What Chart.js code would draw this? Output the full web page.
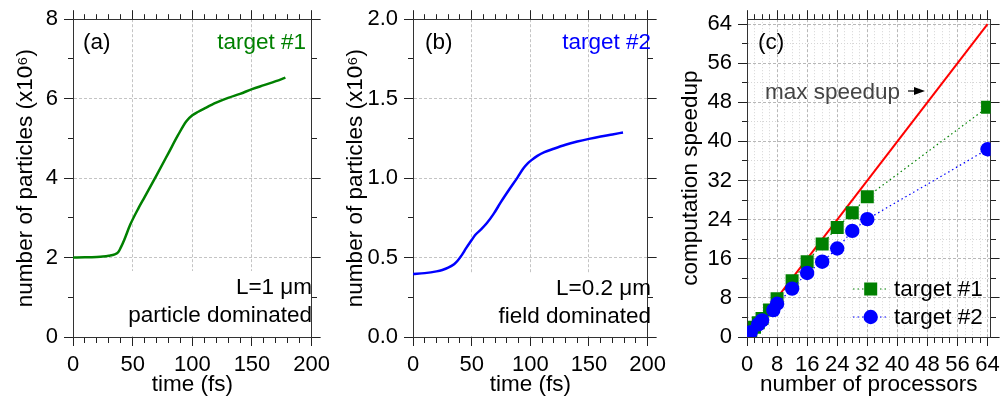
<!DOCTYPE html>
<html><head><meta charset="utf-8">
<script src="https://cdn.jsdelivr.net/npm/chart.js@4/dist/chart.umd.min.js"></script>
<style>
html,body{margin:0;padding:0;background:#fff;}
#wrap{position:relative;width:1006px;height:402px;overflow:hidden;background:#fff;}
canvas{position:absolute;top:0;}
</style></head><body>
<div id="wrap">
<canvas id="ca" style="left:0px" width="336" height="402"></canvas>
<canvas id="cb" style="left:336px" width="336" height="402"></canvas>
<canvas id="cc" style="left:672px" width="334" height="402"></canvas>
</div>
<script>
// ---------- data ----------
const timeA  = [0, 10, 20, 25, 30, 35, 38, 40, 43, 48, 55, 60, 70, 80, 88, 95, 100, 105, 110, 120, 130, 140, 150, 160, 170, 178];
const countA = [2.00, 2.005, 2.015, 2.025, 2.045, 2.08, 2.14, 2.25, 2.45, 2.83, 3.25, 3.52, 4.07, 4.63, 5.08, 5.43, 5.58, 5.67, 5.75, 5.90, 6.02, 6.12, 6.24, 6.34, 6.44, 6.53];

const timeB  = [0, 10, 20, 25, 30, 35, 38, 42, 45, 50, 53, 58, 63, 69, 75, 82, 89, 94, 98, 101, 106, 112, 120, 130, 140, 150, 160, 170, 179];
const countB = [0.397, 0.402, 0.413, 0.422, 0.436, 0.458, 0.480, 0.52, 0.556, 0.61, 0.642, 0.677, 0.717, 0.778, 0.850, 0.928, 1.003, 1.060, 1.094, 1.113, 1.140, 1.163, 1.185, 1.210, 1.230, 1.247, 1.262, 1.275, 1.287];

const procs1   = [1, 2, 3, 4, 6, 8, 12, 16, 20, 24, 28, 32, 64];
const speedup1 = [1.0, 2.0, 2.9, 3.8, 5.5, 7.8, 11.5, 15.4, 19.0, 22.4, 25.4, 28.7, 47.0];
const procs2   = [1, 3, 4, 7, 8, 12, 16, 20, 24, 28, 32, 64];
const speedup2 = [1.0, 2.6, 3.4, 5.5, 6.8, 9.9, 13.1, 15.4, 18.1, 21.7, 24.1, 38.4];
const idealProcs   = [1, 64];
const idealSpeedup = [1, 64];

const ticksTime  = [0, 50, 100, 150, 200];
const ticksA     = [0, 2, 4, 6, 8];
const ticksB     = [0, 0.5, 1.0, 1.5, 2.0];
const ticksProcs = [0, 8, 16, 24, 32, 40, 48, 56, 64];

// ---------- helpers ----------
const FONT = '"Liberation Sans", Arial, Helvetica, sans-serif';
Chart.defaults.font.family = FONT;
Chart.defaults.color = '#000';
Chart.defaults.animation = false;
const CLEAR = 'rgba(0,0,0,0)';
const pts = (xs, ys) => xs.map((x, i) => ({x: x, y: ys[i]}));
const isMul = (v, m) => { const r = v / m; return Math.abs(r - Math.round(r)) < 1e-6; };

function axis(pos, a, mirror) {
  const horiz = (pos === 'top' || pos === 'bottom');
  const outerFirst = (pos === 'top' || pos === 'left');
  return {
    type: 'linear', position: pos, min: a.min, max: a.max, display: true,
    afterFit: s => { if (horiz) s.height = a.size; else s.width = a.size; },
    ticks: {
      display: !mirror, stepSize: a.step, autoSkip: false, maxRotation: 0, minRotation: 0,
      includeBounds: false, padding: 6, color: '#000', font: {size: 22},
      callback: v => (a.labels.some(t => Math.abs(t - v) < 1e-6) ? a.fmt(v) : '')
    },
    grid: {
      display: true, drawOnChartArea: !mirror, drawTicks: true, tickLength: 9,
      tickWidth: 1, tickColor: '#222', lineWidth: 1,
      color: c => {
        if (!c.tick) return CLEAR;
        const v = c.tick.value;
        if (v <= a.min + 1e-9 || v >= a.max - 1e-9) return CLEAR;
        return isMul(v, a.major) ? a.gridMajor : a.gridMinor;
      },
      tickBorderDash: c => (c.tick && !isMul(c.tick.value, a.major)) ? (outerFirst ? [0, 4, 5, 100] : [5, 100]) : []
    },
    border: {
      display: true, color: '#333', width: 1,
      dash: c => (c.tick && isMul(c.tick.value, a.major)) ? a.dashMajor : a.dashMinor
    },
    title: mirror ? {display: false} : {
      display: true, text: a.title, color: '#000', font: {size: 22.5},
      padding: horiz ? {top: 0, bottom: a.titlePad} : {top: a.titlePad, bottom: 0}
    }
  };
}

function scales(xa, ya) {
  return {
    x: axis('bottom', xa, false),
    x2: axis('top', Object.assign({}, xa, {size: 17}), true),
    y: axis('left', ya, false),
    y2: axis('right', Object.assign({}, ya, {size: ya.rightSize}), true)
  };
}

function textPlugin(conf) {
  return {
    id: 'notes',
    beforeDatasetsDraw(chart) {
      if (!conf.box) return;
      const ca = chart.chartArea, ctx = chart.ctx;
      ctx.save();
      ctx.fillStyle = '#fff';
      ctx.fillRect(conf.box.x - conf.off, conf.box.y, ca.right - 1 - (conf.box.x - conf.off), ca.bottom - 1 - conf.box.y);
      ctx.restore();
    },
    afterDraw(chart) {
      const ctx = chart.ctx;
      ctx.save();
      ctx.textBaseline = 'alphabetic';
      conf.texts.forEach(t => {
        ctx.font = (t.size || 22.5) + 'px ' + FONT;
        ctx.fillStyle = t.color || '#000';
        ctx.textAlign = t.align || 'left';
        ctx.fillText(t.text, t.x - conf.off, t.y);
      });
      if (conf.arrow) {
        const a = conf.arrow, x0 = a.x0 - conf.off, x1 = a.x1 - conf.off;
        ctx.strokeStyle = '#000'; ctx.fillStyle = '#000'; ctx.lineWidth = 1.2;
        ctx.beginPath(); ctx.moveTo(x0, a.y); ctx.lineTo(x1 - 8, a.y); ctx.stroke();
        ctx.beginPath(); ctx.moveTo(x1, a.y); ctx.lineTo(x1 - 11, a.y - 4); ctx.lineTo(x1 - 11, a.y + 4); ctx.closePath(); ctx.fill();
      }
      if (conf.legend) {
        const L = conf.legend;
        L.items.forEach((it, i) => {
          const ds = chart.data.datasets[it];
          const y = L.rows[i];
          const x1 = L.x1 - conf.off, x2 = L.x2 - conf.off, xm = L.xm - conf.off;
          ctx.save();
          ctx.strokeStyle = ds.borderColor; ctx.lineWidth = ds.borderWidth;
          ctx.setLineDash(ds.borderDash || []);
          ctx.beginPath(); ctx.moveTo(x1, y); ctx.lineTo(x2, y); ctx.stroke();
          ctx.setLineDash([]);
          ctx.fillStyle = ds.pointBackgroundColor;
          ctx.beginPath();
          if (ds.pointStyle === 'rect') {
            const h = ds.pointRadius * Math.SQRT1_2;
            ctx.rect(xm - h, y - h, 2 * h, 2 * h);
          } else {
            ctx.arc(xm, y, ds.pointRadius, 0, Math.PI * 2);
          }
          ctx.fill();
          ctx.restore();
          ctx.font = '22.5px ' + FONT; ctx.fillStyle = '#000'; ctx.textAlign = 'left';
          ctx.fillText(ds.label, L.tx - conf.off, L.base[i]);
        });
      }
      ctx.restore();
    }
  };
}

const common = {
  responsive: false, animation: false,
  plugins: {legend: {display: false}, tooltip: {enabled: false}},
  layout: {padding: 0},
  elements: {point: {radius: 0}}
};

const GRID = '#c4c4c4';

// ---------- panel (a) ----------
new Chart(document.getElementById('ca'), {
  type: 'line',
  data: {datasets: [{
    label: 'target #1', data: pts(timeA, countA), borderColor: '#008000', borderWidth: 2.5,
    pointRadius: 0, cubicInterpolationMode: 'monotone', fill: false
  }]},
  options: Object.assign({}, common, {
    scales: scales(
      {min: 0, max: 200, step: 10, major: 50, labels: ticksTime, fmt: v => String(v), size: 65,
       title: 'time (fs)', titlePad: 4, gridMajor: GRID, gridMinor: CLEAR, dashMajor: [3, 2], dashMinor: []},
      {min: 0, max: 8, step: 1, major: 2, labels: ticksA, fmt: v => String(v), size: 73, rightSize: 13,
       title: 'number of particles (x10\u2076)', titlePad: 12.5, gridMajor: GRID, gridMinor: CLEAR, dashMajor: [3, 2], dashMinor: []}
    )
  }),
  plugins: [textPlugin({
    off: 0, box: {x: 118, y: 271},
    texts: [
      {text: '(a)', x: 83, y: 48.5},
      {text: 'target #1', x: 306, y: 49, align: 'right', color: '#008000'},
      {text: 'L=1 \u03bcm', x: 312, y: 294, align: 'right'},
      {text: 'particle dominated', x: 312, y: 322, align: 'right'}
    ]
  })]
});

// ---------- panel (b) ----------
new Chart(document.getElementById('cb'), {
  type: 'line',
  data: {datasets: [{
    label: 'target #2', data: pts(timeB, countB), borderColor: '#0000ff', borderWidth: 2.5,
    pointRadius: 0, cubicInterpolationMode: 'monotone', fill: false
  }]},
  options: Object.assign({}, common, {
    scales: scales(
      {min: 0, max: 200, step: 10, major: 50, labels: ticksTime, fmt: v => String(v), size: 65,
       title: 'time (fs)', titlePad: 4, gridMajor: GRID, gridMinor: CLEAR, dashMajor: [3, 2], dashMinor: []},
      {min: 0, max: 2, step: 0.25, major: 0.5, labels: ticksB, fmt: v => v.toFixed(1), size: 77, rightSize: 10,
       title: 'number of particles (x10\u2076)', titlePad: 6.5, gridMajor: GRID, gridMinor: CLEAR, dashMajor: [3, 2], dashMinor: []}
    )
  }),
  plugins: [textPlugin({
    off: 336, box: {x: 462, y: 273},
    texts: [
      {text: '(b)', x: 425, y: 48.5},
      {text: 'target #2', x: 651, y: 49, align: 'right', color: '#0000ff'},
      {text: 'L=0.2 \u03bcm', x: 651, y: 295, align: 'right'},
      {text: 'field dominated', x: 651, y: 322.5, align: 'right'}
    ]
  })]
});

// ---------- panel (c) ----------
new Chart(document.getElementById('cc'), {
  type: 'line',
  data: {datasets: [
    {label: 'max speedup', data: pts(idealProcs, idealSpeedup), borderColor: '#ff0000', borderWidth: 2,
     pointRadius: 0, order: 3, fill: false},
    {label: 'target #1', data: pts(procs1, speedup1), borderColor: '#008000', borderWidth: 1.2,
     borderDash: [1.5, 3], pointStyle: 'rect', pointRadius: 9.2, pointBorderWidth: 0,
     pointBackgroundColor: '#008000', pointBorderColor: '#008000', order: 2, fill: false},
    {label: 'target #2', data: pts(procs2, speedup2), borderColor: '#0000ff', borderWidth: 1.2,
     borderDash: [1.5, 3], pointStyle: 'circle', pointRadius: 7.2, pointBorderWidth: 0,
     pointBackgroundColor: '#0000ff', pointBorderColor: '#0000ff', order: 1, fill: false}
  ]},
  options: Object.assign({}, common, {
    scales: scales(
      {min: 0, max: 64.8, step: 2, major: 8, labels: ticksProcs, fmt: v => String(v), size: 65,
       title: 'number of processors', titlePad: 4, gridMajor: '#b8b8b8', gridMinor: '#d6d6d6', dashMajor: [3, 2], dashMinor: [1, 2]},
      {min: 0, max: 65, step: 4, major: 8, labels: ticksProcs, fmt: v => String(v), size: 75, rightSize: 11,
       title: 'computation speedup', titlePad: 5.5, gridMajor: '#b8b8b8', gridMinor: '#d6d6d6', dashMajor: [3, 2], dashMinor: [1, 2]}
    )
  }),
  plugins: [textPlugin({
    off: 672,
    texts: [
      {text: '(c)', x: 758, y: 48.5},
      {text: 'max speedup', x: 765, y: 98.5, color: '#444'}
    ],
    arrow: {x0: 908, x1: 925, y: 91},
    legend: {items: [1, 2], rows: [289, 317], x1: 853, x2: 888, xm: 870.7, tx: 894, base: [296, 324]}
  })]
});
</script>
</body></html>
